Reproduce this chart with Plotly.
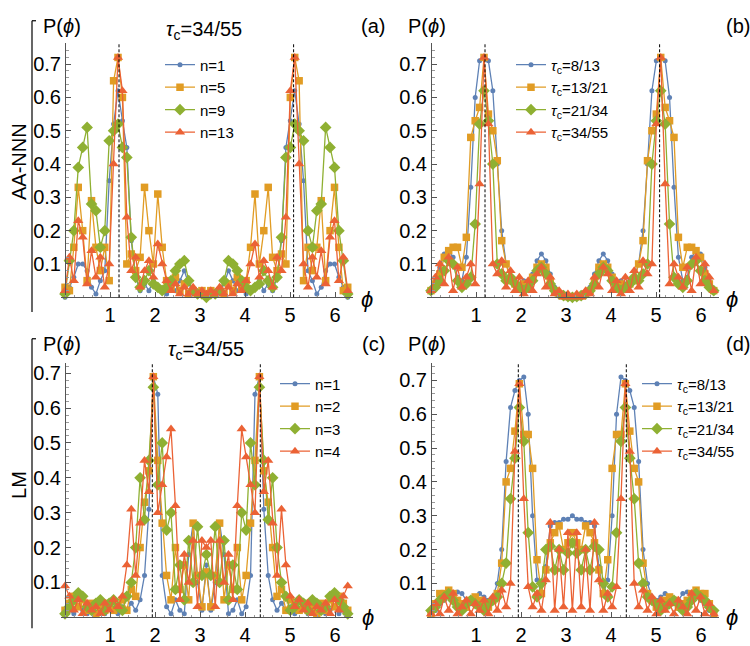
import plotly.graph_objects as go

# ---------------- data ----------------
phi = [0.0, 0.098, 0.196, 0.295, 0.393, 0.491, 0.589, 0.687, 0.785, 0.884, 0.982, 1.08, 1.178,
       1.276, 1.374, 1.473, 1.571, 1.669, 1.767, 1.865, 1.963, 2.062, 2.16, 2.258, 2.356, 2.454,
       2.553, 2.651, 2.749, 2.847, 2.945, 3.043, 3.142, 3.24, 3.338, 3.436, 3.534, 3.633, 3.731,
       3.829, 3.927, 4.025, 4.123, 4.222, 4.32, 4.418, 4.516, 4.614, 4.712, 4.811, 4.909, 5.007,
       5.105, 5.203, 5.301, 5.4, 5.498, 5.596, 5.694, 5.792, 5.89, 5.989, 6.087, 6.185, 6.283]

# panel (a): AA-NNN, tau_c = 34/55, n = 1, 5, 9, 13
a_n1 = [0.0, 0.03, 0.06, 0.10, 0.10, 0.08, 0.03, 0.01, 0.05, 0.08, 0.35, 0.52, 0.62, 0.53, 0.45, 0.17,
        0.06, 0.02, 0.04, 0.02, 0.05, 0.03, 0.02, 0.01, 0.03, 0.02, 0.05, 0.08, 0.04, 0.02, 0.01, 0.02, 0.01,
        0.02, 0.01, 0.02, 0.04, 0.08, 0.05, 0.02, 0.03, 0.01, 0.02, 0.03, 0.05, 0.02, 0.04, 0.02, 0.06,
        0.17, 0.45, 0.53, 0.62, 0.52, 0.35, 0.08, 0.05, 0.01, 0.03, 0.08, 0.10, 0.10, 0.06, 0.03, 0.0]
a_n5 = [0.03, 0.02, 0.15, 0.33, 0.20, 0.05, 0.29, 0.15, 0.08, 0.15, 0.05, 0.65, 0.72, 0.60, 0.10, 0.13,
        0.08, 0.12, 0.33, 0.20, 0.10, 0.31, 0.15, 0.05, 0.03, 0.06, 0.02, 0.04, 0.01, 0.02, 0.01, 0.02, 0.01,
        0.02, 0.01, 0.02, 0.01, 0.04, 0.02, 0.06, 0.03, 0.05, 0.15, 0.31, 0.10, 0.20, 0.33, 0.12, 0.08,
        0.13, 0.10, 0.60, 0.72, 0.65, 0.05, 0.15, 0.08, 0.15, 0.29, 0.05, 0.20, 0.33, 0.15, 0.02, 0.03]
a_n9 = [0.01, 0.11, 0.20, 0.39, 0.45, 0.51, 0.28, 0.26, 0.15, 0.20, 0.47, 0.50, 0.52, 0.45, 0.42, 0.18,
        0.06, 0.03, 0.05, 0.08, 0.04, 0.03, 0.02, 0.03, 0.05, 0.08, 0.10, 0.11, 0.05, 0.02, 0.01, 0.01, 0.0,
        0.01, 0.01, 0.02, 0.05, 0.11, 0.10, 0.08, 0.05, 0.03, 0.02, 0.03, 0.04, 0.08, 0.05, 0.03, 0.06,
        0.18, 0.42, 0.45, 0.52, 0.50, 0.47, 0.20, 0.15, 0.26, 0.28, 0.51, 0.45, 0.39, 0.20, 0.11, 0.01]
a_n13 = [0.02, 0.12, 0.05, 0.23, 0.18, 0.04, 0.14, 0.06, 0.12, 0.03, 0.10, 0.40, 0.72, 0.62, 0.24, 0.08,
         0.12, 0.03, 0.08, 0.11, 0.06, 0.16, 0.10, 0.05, 0.02, 0.04, 0.01, 0.03, 0.01, 0.03, 0.01, 0.02, 0.01,
         0.02, 0.01, 0.03, 0.01, 0.03, 0.01, 0.04, 0.02, 0.05, 0.10, 0.16, 0.06, 0.11, 0.08, 0.03, 0.12,
         0.08, 0.24, 0.62, 0.72, 0.40, 0.10, 0.03, 0.12, 0.06, 0.14, 0.04, 0.18, 0.23, 0.05, 0.12, 0.02]

# panel (b): AA-NNN, tau_c = 8/13, 13/21, 21/34, 34/55
b_t8 = [0.02, 0.05, 0.09, 0.13, 0.14, 0.12, 0.06, 0.05, 0.12, 0.33, 0.60, 0.71, 0.72, 0.71, 0.62, 0.40,
        0.20, 0.10, 0.06, 0.05, 0.04, 0.05, 0.04, 0.07, 0.11, 0.13, 0.11, 0.07, 0.03, 0.01, 0.005, 0.002, 0.0,
        0.002, 0.005, 0.01, 0.03, 0.07, 0.11, 0.13, 0.11, 0.07, 0.04, 0.05, 0.04, 0.05, 0.06, 0.10, 0.20,
        0.40, 0.62, 0.71, 0.72, 0.71, 0.60, 0.33, 0.12, 0.05, 0.06, 0.12, 0.14, 0.13, 0.09, 0.05, 0.02]
b_t13 = [0.02, 0.04, 0.07, 0.12, 0.14, 0.15, 0.15, 0.09, 0.18, 0.48, 0.53, 0.57, 0.72, 0.55, 0.50, 0.41,
         0.17, 0.10, 0.05, 0.04, 0.03, 0.04, 0.03, 0.06, 0.09, 0.10, 0.09, 0.05, 0.02, 0.01, 0.005, 0.002, 0.0,
         0.002, 0.005, 0.01, 0.02, 0.05, 0.09, 0.10, 0.09, 0.06, 0.03, 0.04, 0.03, 0.04, 0.05, 0.10, 0.17,
         0.41, 0.50, 0.55, 0.72, 0.57, 0.53, 0.48, 0.18, 0.09, 0.15, 0.15, 0.14, 0.12, 0.07, 0.04, 0.02]
b_t21 = [0.02, 0.03, 0.05, 0.08, 0.11, 0.10, 0.05, 0.03, 0.04, 0.06, 0.22, 0.52, 0.62, 0.53, 0.40, 0.10,
         0.07, 0.05, 0.06, 0.04, 0.03, 0.02, 0.03, 0.05, 0.08, 0.09, 0.07, 0.04, 0.02, 0.01, 0.005, 0.002, 0.0,
         0.002, 0.005, 0.01, 0.02, 0.04, 0.07, 0.09, 0.08, 0.05, 0.03, 0.02, 0.03, 0.04, 0.06, 0.05, 0.07,
         0.10, 0.40, 0.53, 0.62, 0.52, 0.22, 0.06, 0.04, 0.03, 0.05, 0.10, 0.11, 0.08, 0.05, 0.03, 0.02]
b_t34 = [0.02, 0.06, 0.10, 0.04, 0.12, 0.02, 0.09, 0.03, 0.06, 0.10, 0.04, 0.34, 0.72, 0.52, 0.10, 0.07,
         0.11, 0.03, 0.08, 0.02, 0.06, 0.01, 0.05, 0.02, 0.07, 0.09, 0.03, 0.06, 0.01, 0.02, 0.0, 0.01, 0.0,
         0.01, 0.0, 0.02, 0.01, 0.06, 0.03, 0.09, 0.07, 0.02, 0.05, 0.01, 0.06, 0.02, 0.08, 0.03, 0.11,
         0.07, 0.10, 0.52, 0.72, 0.34, 0.04, 0.10, 0.06, 0.03, 0.09, 0.02, 0.12, 0.04, 0.10, 0.06, 0.02]

# panel (c): LM, tau_c = 34/55, n = 1..4
c_n1 = [0.01, 0.02, 0.01, 0.03, 0.02, 0.01, 0.03, 0.01, 0.02, 0.01, 0.03, 0.02, 0.01, 0.03, 0.02, 0.04,
        0.02, 0.05, 0.12, 0.31, 0.69, 0.64, 0.12, 0.03, 0.01, 0.05, 0.02, 0.01, 0.18, 0.27, 0.10, 0.02, 0.15,
        0.02, 0.10, 0.27, 0.18, 0.01, 0.02, 0.05, 0.01, 0.03, 0.12, 0.64, 0.69, 0.31, 0.12, 0.05, 0.02,
        0.04, 0.02, 0.03, 0.01, 0.02, 0.03, 0.01, 0.02, 0.01, 0.03, 0.01, 0.02, 0.03, 0.01, 0.02, 0.01]
c_n2 = [0.02, 0.04, 0.06, 0.03, 0.05, 0.02, 0.04, 0.01, 0.03, 0.02, 0.04, 0.02, 0.03, 0.05, 0.02, 0.08,
        0.06, 0.20, 0.33, 0.42, 0.69, 0.45, 0.27, 0.12, 0.05, 0.20, 0.08, 0.15, 0.05, 0.27, 0.12, 0.03, 0.13,
        0.03, 0.12, 0.27, 0.05, 0.15, 0.08, 0.20, 0.05, 0.12, 0.27, 0.45, 0.69, 0.42, 0.33, 0.20, 0.06,
        0.08, 0.02, 0.05, 0.03, 0.02, 0.04, 0.02, 0.03, 0.01, 0.04, 0.02, 0.05, 0.03, 0.06, 0.04, 0.02]
c_n3 = [0.01, 0.03, 0.05, 0.07, 0.06, 0.03, 0.02, 0.04, 0.05, 0.02, 0.04, 0.05, 0.03, 0.02, 0.06, 0.10,
        0.20, 0.40, 0.28, 0.45, 0.66, 0.38, 0.50, 0.25, 0.30, 0.08, 0.15, 0.05, 0.22, 0.10, 0.26, 0.12, 0.18,
        0.12, 0.26, 0.10, 0.22, 0.05, 0.15, 0.08, 0.30, 0.25, 0.50, 0.38, 0.66, 0.45, 0.28, 0.40, 0.20,
        0.10, 0.06, 0.02, 0.03, 0.05, 0.04, 0.02, 0.05, 0.04, 0.02, 0.03, 0.06, 0.07, 0.05, 0.03, 0.01]
c_n4 = [0.09, 0.06, 0.02, 0.05, 0.01, 0.04, 0.02, 0.03, 0.01, 0.04, 0.02, 0.05, 0.03, 0.06, 0.15, 0.31,
        0.12, 0.27, 0.45, 0.36, 0.69, 0.30, 0.38, 0.46, 0.54, 0.32, 0.05, 0.18, 0.10, 0.22, 0.03, 0.22, 0.20,
        0.22, 0.03, 0.22, 0.10, 0.18, 0.05, 0.32, 0.54, 0.46, 0.38, 0.30, 0.69, 0.36, 0.45, 0.27, 0.12,
        0.31, 0.15, 0.06, 0.03, 0.05, 0.02, 0.04, 0.01, 0.03, 0.02, 0.04, 0.01, 0.05, 0.02, 0.06, 0.09]

# panel (d): LM, tau_c = 8/13, 13/21, 21/34, 34/55
d_t8 = [0.02, 0.02, 0.04, 0.05, 0.06, 0.07, 0.075, 0.07, 0.05, 0.04, 0.06, 0.07, 0.06, 0.05, 0.06, 0.10,
        0.20, 0.46, 0.62, 0.67, 0.70, 0.71, 0.60, 0.30, 0.11, 0.07, 0.15, 0.27, 0.28, 0.28, 0.29, 0.29, 0.30,
        0.29, 0.29, 0.28, 0.28, 0.27, 0.15, 0.07, 0.11, 0.30, 0.60, 0.71, 0.70, 0.67, 0.62, 0.46, 0.20,
        0.10, 0.06, 0.05, 0.06, 0.07, 0.06, 0.04, 0.05, 0.07, 0.075, 0.07, 0.06, 0.05, 0.04, 0.02, 0.02]
d_t13 = [0.01, 0.04, 0.07, 0.07, 0.08, 0.07, 0.05, 0.04, 0.03, 0.05, 0.06, 0.05, 0.04, 0.03, 0.05, 0.07,
         0.16, 0.40, 0.44, 0.55, 0.69, 0.54, 0.54, 0.44, 0.17, 0.07, 0.14, 0.22, 0.25, 0.27, 0.20, 0.22, 0.25,
         0.22, 0.20, 0.27, 0.25, 0.22, 0.14, 0.07, 0.17, 0.44, 0.54, 0.54, 0.69, 0.55, 0.44, 0.40, 0.16,
         0.07, 0.05, 0.03, 0.04, 0.05, 0.06, 0.05, 0.03, 0.04, 0.05, 0.07, 0.08, 0.07, 0.07, 0.04, 0.01]
d_t21 = [0.02, 0.03, 0.05, 0.06, 0.07, 0.05, 0.03, 0.02, 0.04, 0.05, 0.04, 0.03, 0.02, 0.04, 0.05, 0.06,
         0.10, 0.16, 0.35, 0.47, 0.62, 0.52, 0.25, 0.09, 0.06, 0.10, 0.20, 0.21, 0.14, 0.20, 0.14, 0.19, 0.22,
         0.19, 0.14, 0.20, 0.14, 0.21, 0.20, 0.10, 0.06, 0.09, 0.25, 0.52, 0.62, 0.47, 0.35, 0.16, 0.10,
         0.06, 0.05, 0.04, 0.02, 0.03, 0.04, 0.05, 0.04, 0.02, 0.03, 0.05, 0.07, 0.06, 0.05, 0.03, 0.02]
d_t34 = [0.01, 0.04, 0.01, 0.06, 0.02, 0.07, 0.01, 0.03, 0.05, 0.01, 0.04, 0.02, 0.05, 0.01, 0.06, 0.02,
         0.08, 0.03, 0.10, 0.49, 0.69, 0.35, 0.09, 0.03, 0.07, 0.02, 0.11, 0.28, 0.02, 0.20, 0.03, 0.25, 0.02,
         0.25, 0.03, 0.20, 0.02, 0.28, 0.11, 0.02, 0.07, 0.03, 0.09, 0.35, 0.69, 0.49, 0.10, 0.03, 0.08,
         0.02, 0.06, 0.01, 0.05, 0.02, 0.04, 0.01, 0.05, 0.03, 0.01, 0.07, 0.02, 0.06, 0.01, 0.04, 0.01]

labels_a = ["n=1", "n=5", "n=9", "n=13"]
labels_c = ["n=1", "n=2", "n=3", "n=4"]
labels_tau = ["<i>τ</i><sub>c</sub>=8/13", "<i>τ</i><sub>c</sub>=13/21",
              "<i>τ</i><sub>c</sub>=21/34", "<i>τ</i><sub>c</sub>=34/55"]
vlines_ab = [1.2, 5.08]
vlines_cd = [1.94, 4.34]
x_ticks = [1, 2, 3, 4, 5, 6]
y_ticks = [0.1, 0.2, 0.3, 0.4, 0.5, 0.6, 0.7]

# ---------------- styling ----------------
W, H = 750, 646
FONT = "Liberation Sans, Arial, Helvetica, sans-serif"
COLORS = ["#5E81B5", "#E19C24", "#8FB032", "#EB6235"]
SYMBOLS = ["circle", "square", "diamond", "triangle-up"]
SIZES = [5, 7.5, 9, 9]
AXC = "#555555"


def px(x):
    return x / W


def py(y):
    return 1 - y / H


fig = go.Figure()

panels = [
    ("x", "y", "legend", labels_a, [a_n1, a_n5, a_n9, a_n13], vlines_ab,
     [px(60.5), px(353)], [py(300), py(43)], [0, 0.762], px(65), (px(160), py(48))),
    ("x2", "y2", "legend2", labels_tau, [b_t8, b_t13, b_t21, b_t34], vlines_ab,
     [px(426.5), px(719)], [py(300), py(43)], [0, 0.762], px(431), (px(511), py(48))),
    ("x3", "y3", "legend3", labels_c, [c_n1, c_n2, c_n3, c_n4], vlines_cd,
     [px(60.5), px(353)], [py(624), py(367)], [0, 0.728], px(65), (px(275), py(371))),
    ("x4", "y4", "legend4", labels_tau, [d_t8, d_t13, d_t21, d_t34], vlines_cd,
     [px(426.5), px(719)], [py(624), py(367)], [0, 0.75], px(431), (px(637), py(371))),
]

shapes = []
layout_extra = {}
for i, (xa, ya, lg, labels, series, vl, xdom, ydom, yr, ypos, lxy) in enumerate(panels):
    for k, (lab, yv) in enumerate(zip(labels, series)):
        fig.add_trace(go.Scatter(
            x=phi, y=yv, mode="lines+markers", name=lab,
            xaxis=xa, yaxis=ya, legend=lg, cliponaxis=False,
            line=dict(color=COLORS[k], width=1.3),
            marker=dict(symbol=SYMBOLS[k], size=SIZES[k], color=COLORS[k], line=dict(width=0)),
        ))
    suffix = "" if i == 0 else str(i + 1)
    layout_extra["xaxis" + suffix] = dict(
        domain=xdom, range=[-0.1, 6.4], anchor=ya,
        tickvals=x_ticks, ticktext=[str(t) for t in x_ticks],
        ticks="inside", ticklen=5, tickcolor=AXC, tickwidth=1,
        showline=True, linecolor=AXC, linewidth=1,
        showgrid=False, zeroline=False,
        tickfont=dict(size=20, color="#000000", family=FONT),
        minor=dict(dtick=0.2, ticks="inside", ticklen=2.5, tickcolor="#999999", showgrid=False),
    )
    layout_extra["yaxis" + suffix] = dict(
        domain=ydom, range=yr, anchor="free", position=ypos,
        tickvals=y_ticks, ticktext=[f"{t:.1f}" for t in y_ticks],
        ticks="inside", ticklen=5, tickcolor=AXC, tickwidth=1,
        showline=True, linecolor=AXC, linewidth=1,
        showgrid=False, zeroline=False,
        tickfont=dict(size=20, color="#000000", family=FONT),
        minor=dict(dtick=0.02, ticks="inside", ticklen=2.5, tickcolor="#999999", showgrid=False),
    )
    layout_extra[lg] = dict(
        x=lxy[0], y=lxy[1], xanchor="left", yanchor="top",
        bgcolor="rgba(0,0,0,0)", borderwidth=0,
        font=dict(size=15, color="#000000", family=FONT),
    )
    for v in vl:
        shapes.append(dict(type="line", xref=xa, yref=ya + " domain", x0=v, x1=v, y0=0, y1=1,
                           line=dict(color="#000000", width=1, dash="3px,2px")))

for top, bot in [(20, 315), (342, 635)]:
    shapes.append(dict(type="line", xref="paper", yref="paper", x0=px(32), x1=px(32),
                       y0=py(top), y1=py(bot), line=dict(color="#000000", width=1.2)))
    shapes.append(dict(type="line", xref="paper", yref="paper", x0=px(32), x1=px(36),
                       y0=py(top), y1=py(top), line=dict(color="#000000", width=1.2)))

annotations = []


def ann(text, x, y, size=20, angle=0):
    annotations.append(dict(text=text, x=px(x), y=py(y), xref="paper", yref="paper",
                            xanchor="center", yanchor="middle", showarrow=False, textangle=angle,
                            font=dict(size=size, color="#000000", family=FONT)))


pphi = "P(<i>ϕ</i>)"
ann(pphi, 62, 25)
ann(pphi, 427, 25)
ann(pphi, 62, 347)
ann(pphi, 427, 347)
ann("<i>τ</i><sub>c</sub>=34/55", 204, 30)
ann("<i>τ</i><sub>c</sub>=34/55", 206, 354)
ann("(a)", 373, 25)
ann("(b)", 738, 25)
ann("(c)", 373, 347)
ann("(d)", 738, 347)
ann("<i>ϕ</i>", 367, 302, size=22)
ann("<i>ϕ</i>", 732, 302, size=22)
ann("<i>ϕ</i>", 368, 624, size=22)
ann("<i>ϕ</i>", 732, 624, size=22)
ann("AA-NNN", 19, 163, angle=-90)
ann("LM", 19, 490, angle=-90)

fig.update_layout(
    width=W, height=H, margin=dict(l=0, r=0, t=0, b=0),
    paper_bgcolor="#FFFFFF", plot_bgcolor="rgba(0,0,0,0)",
    font=dict(family=FONT, color="#000000"),
    shapes=shapes, annotations=annotations,
    **layout_extra,
)

fig.write_html("out.html", config={"displayModeBar": False},
               post_script="document.body.style.margin='0';document.body.style.overflow='hidden';")
